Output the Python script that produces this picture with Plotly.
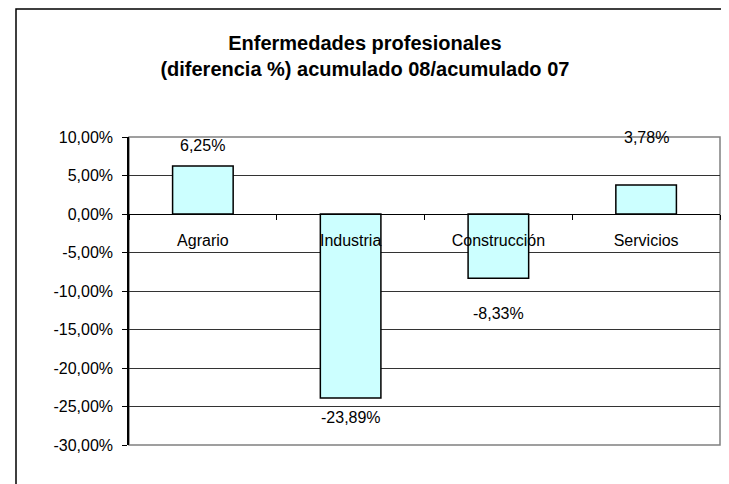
import plotly.graph_objects as go

categories = ["Agrario", "Industria", "Construcción", "Servicios"]
values = [0.0625, -0.2389, -0.0833, 0.0378]
label_shift = [20, -20, -35, 47]

tick_values = [0.10, 0.05, 0.0, -0.05, -0.10, -0.15, -0.20, -0.25, -0.30]
tick_labels = ["10,00%", "5,00%", "0,00%", "-5,00%", "-10,00%", "-15,00%",
               "-20,00%", "-25,00%", "-30,00%"]

# page body has an 8px margin, so the figure is sized to fit the window
W, H = 721, 476
ml, mr, mt, mb = 121, 9, 129, 39
pw = W - ml - mr
ph = H - mt - mb

ymin, ymax = -0.30, 0.10
zero_pos = (0 - ymin) / (ymax - ymin)

font = "Liberation Sans, Arial, sans-serif"

fig = go.Figure()
fig.add_trace(go.Bar(
    x=categories, y=values, width=0.41,
    marker=dict(color="#CCFFFF", line=dict(color="black", width=1.5)),
    hoverinfo="x+y",
))

for c, v, s in zip(categories, values, label_shift):
    txt = f"{v*100:.2f}%".replace(".", ",")
    fig.add_annotation(x=c, y=v, text=txt, showarrow=False, yshift=s,
                       font=dict(family=font, size=16, color="black"))

def px_to_paper_x(px):
    return (px - ml) / pw

def px_to_paper_y(py):
    return (H - mb - py) / ph

# outer chart frame (top and left edges)
xl, xr = px_to_paper_x(8), px_to_paper_x(717)
yt, yb = px_to_paper_y(1), px_to_paper_y(500)
fig.add_shape(type="path", xref="paper", yref="paper",
              path=f"M {xl},{yb} L {xl},{yt} L {xr},{yt}",
              line=dict(color="black", width=1.5))
# plot area border
fig.add_shape(type="rect", xref="paper", yref="paper", x0=0, y0=0, x1=1, y1=1,
              line=dict(color="#808080", width=1.5), layer="below")

fig.update_layout(
    width=W, height=H,
    margin=dict(l=ml, r=mr, t=mt, b=mb),
    paper_bgcolor="white", plot_bgcolor="white",
    separators=",.",
    showlegend=False,
    title=dict(text="Enfermedades profesionales<br>(diferencia %) acumulado 08/acumulado 07",
               x=0.495, xanchor="center", y=1 - 42 / H, yanchor="top",
               font=dict(family=font, size=20, color="black", weight="bold")),
    font=dict(family=font, size=16, color="black"),
)

fig.update_yaxes(range=[ymin, ymax], tickmode="array",
                 tickvals=tick_values, ticktext=tick_labels,
                 showgrid=True, gridcolor="#333333", gridwidth=1,
                 zeroline=False,
                 showline=True, linecolor="black", linewidth=1.5,
                 ticks="outside", ticklen=5, tickcolor="black",
                 ticklabelstandoff=6,
                 tickfont=dict(family=font, size=16, color="black"))

fig.update_xaxes(anchor="free", position=zero_pos,
                 showline=True, linecolor="black", linewidth=1,
                 ticks="outside", tickson="boundaries", ticklen=5, tickcolor="black",
                 showgrid=False, zeroline=False,
                 ticklabelstandoff=12,
                 tickfont=dict(family=font, size=16, color="black"))

fig.write_html("out.html")
